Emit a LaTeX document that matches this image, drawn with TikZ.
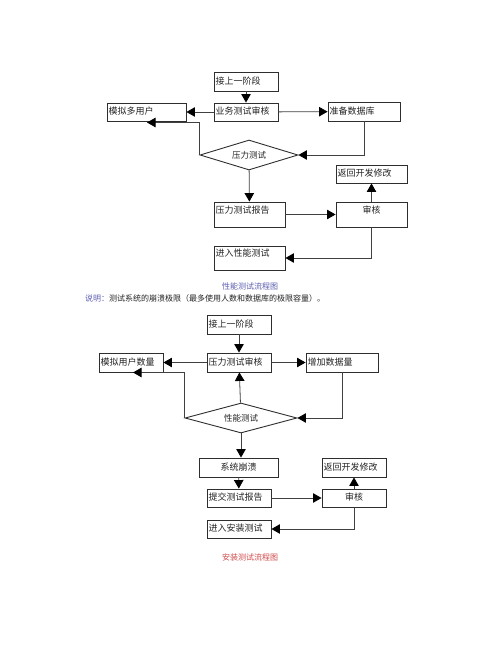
\documentclass[tikz,border=0pt]{standalone}
\usepackage{fontspec}
\usetikzlibrary{arrows.meta,shapes.geometric}
\newfontfamily\cjkfont{Noto Sans CJK SC}
\definecolor{boxgray}{HTML}{2E2E2E}
\definecolor{linegray}{HTML}{404040}
\definecolor{textgray}{HTML}{222222}
\definecolor{captionblue}{HTML}{5B5BB0}
\definecolor{captionred}{HTML}{D04848}

\begin{document}
\begin{tikzpicture}[
		x=1pt,
		y=-1pt,
		>={Triangle[length=8.5pt, width=9.5pt, color=black]},
		every node/.style={font=\cjkfont\fontsize{9pt}{10pt}\selectfont, text=textgray},
		box/.style={draw=boxgray, line width=0.9pt, inner xsep=1.5pt, inner ysep=0pt,
			text height=7pt, text depth=2pt, align=left},
		tallbox/.style={box, text depth=10pt},
		decision/.style={diamond, draw=boxgray, line width=0.9pt, inner sep=0pt, aspect=3,
			font=\cjkfont\fontsize{8.5pt}{9pt}\selectfont},
		link/.style={->, draw=linegray, line width=0.8pt}
	]
		\useasboundingbox (0,0) rectangle (500,653);

		% performance test flow
		\node[box, text width=61pt, minimum height=19pt] (prev1) at (246,81.5) {接上一阶段};
		\node[box, text width=61pt, minimum height=18pt] (rev1) at (246,112) {业务测试审核};
		\node[box, text width=76pt, minimum height=18pt] (sim1) at (146.5,112) {模拟多用户};
		\node[box, text width=69pt, minimum height=19pt] (db1) at (364,111.5) {准备数据库};
		\node[decision, minimum width=98pt, minimum height=30pt] (dia1) at (249,155) {压力测试};
		\node[tallbox, text width=68pt, minimum height=25pt] (rep1) at (249.5,214.5) {压力测试报告};
		\node[box, text width=68pt, minimum height=18pt] (back1) at (371.5,174) {返回开发修改};
		\node[tallbox, text width=68pt, minimum height=25pt, align=center] (aud1) at (371.5,214.5) {审核};
		\node[tallbox, text width=68pt, minimum height=24pt] (next1) at (249.5,258) {进入性能测试};
		\coordinate (sim1tip) at (147,122.5);

		\draw[link] (prev1) -- (rev1);
		\draw[link] (rev1) -- (sim1);
		\draw[link] (rev1) -- (db1);
		\draw[link] (db1.south) |- (dia1.east);
		\draw[link] (dia1.west) |- (sim1tip);
		\draw[link] (dia1) -- (rep1);
		\draw[link] (rep1) -- (aud1);
		\draw[link] (aud1) -- (back1);
		\draw[link] (aud1.south) |- (next1.east);

		\node[text=captionblue, font=\cjkfont\fontsize{8pt}{9pt}\selectfont] (cap1) at (250,286) {性能测试流程图};
		\node[anchor=west, inner sep=0pt, font=\cjkfont\fontsize{8pt}{9pt}\selectfont] (note) at (85,298)
			{\textcolor{captionblue}{说明：}测试系统的崩溃极限（最多使用人数和数据库的极限容量）。};

		% installation test flow
		\node[box, text width=61pt, minimum height=19pt] (prev2) at (239,324.5) {接上一阶段};
		\node[box, text width=61pt, minimum height=19pt] (rev2) at (239,362.5) {压力测试审核};
		\node[box, text width=61pt, minimum height=19pt] (sim2) at (131,362.5) {模拟用户数量};
		\node[box, text width=69pt, minimum height=19pt] (add2) at (342,362.5) {增加数据量};
		\node[decision, minimum width=112pt, minimum height=30pt] (dia2) at (241,418) {性能测试};
		\node[box, text width=76pt, minimum height=19pt, align=center] (crash2) at (238.5,467.5) {系统崩溃};
		\node[box, text width=61pt, minimum height=18pt] (rep2) at (239,498) {提交测试报告};
		\node[box, text width=61pt, minimum height=19pt] (back2) at (354,467.5) {返回开发修改};
		\node[box, text width=61pt, minimum height=18pt, align=center] (aud2) at (354,498) {审核};
		\node[box, text width=61pt, minimum height=18pt] (next2) at (239,529) {进入安装测试};
		\coordinate (sim2tip) at (133,372.5);

		\draw[link] (prev2) -- (rev2);
		\draw[link] (rev2) -- (sim2);
		\draw[link] (rev2) -- (add2);
		\draw[link] (add2.south) |- (dia2.east);
		\draw[link] (dia2.west) |- (sim2tip);
		\draw[link] (dia2) -- (rev2);
		\draw[link] (dia2.south) -- (dia2.south |- crash2.north);
		\draw[link] (crash2) -- (rep2);
		\draw[link] (rep2) -- (aud2);
		\draw[link] (aud2) -- (back2);
		\draw[link] (aud2.south) |- (next2.east);

		\node[text=captionred, font=\cjkfont\fontsize{8pt}{9pt}\selectfont] (cap2) at (250,557) {安装测试流程图};
	\end{tikzpicture}
\end{document}
